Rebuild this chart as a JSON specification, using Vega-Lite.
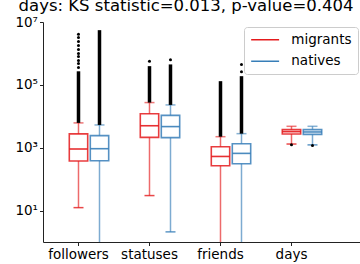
{
  "$schema": "https://vega.github.io/schema/vega-lite/v6.json",
  "width": 317,
  "height": 220,
  "autosize": {"type": "none"},
  "padding": {"left": 43, "top": 22, "right": 0, "bottom": 22},
  "background": "white",
  "config": {
    "font": "DejaVu Sans",
    "view": {"stroke": null},
    "axis": {"grid": false, "domainColor": "#222222", "tickColor": "#222222", "labelColor": "black", "labelFontSize": 13.5, "tickSize": 3.5, "labelPadding": 2, "title": null}
  },
  "title": {"text": "days: KS statistic=0.013, p-value=0.404", "fontSize": 16.5, "fontWeight": "normal", "color": "black", "anchor": "middle", "frame": "group", "baseline": "alphabetic", "offset": 3, "dx": -15.5, "dy": 15},
  "datasets": {
    "boxes": [
      {"metric": "followers", "group": "migrants", "lo": 12.4, "q1": 377, "median": 910, "q3": 2750, "hi": 6160, "fmax": 270000},
      {"metric": "followers", "group": "natives", "lo": 0.5, "q1": 385, "median": 930, "q3": 2420, "hi": 5300, "fmax": 5500000},
      {"metric": "statuses", "group": "migrants", "lo": 30, "q1": 2130, "median": 5000, "q3": 12000, "hi": 27300, "fmax": 394000},
      {"metric": "statuses", "group": "natives", "lo": 2.1, "q1": 2090, "median": 4700, "q3": 10700, "hi": 23000, "fmax": 447000},
      {"metric": "friends", "group": "migrants", "lo": 0.5, "q1": 267, "median": 527, "q3": 1070, "hi": 2240, "fmax": 131000},
      {"metric": "friends", "group": "natives", "lo": 0.5, "q1": 310, "median": 660, "q3": 1340, "hi": 2800, "fmax": 189000},
      {"metric": "days", "group": "migrants", "lo": 1310, "q1": 2740, "median": 3240, "q3": 3760, "hi": 4800, "fmax": 4800},
      {"metric": "days", "group": "natives", "lo": 1230, "q1": 2650, "median": 3170, "q3": 3760, "hi": 4800, "fmax": 4800}
    ],
    "outliers": [
      {"metric": "followers", "group": "migrants", "value": 4050000},
      {"metric": "followers", "group": "migrants", "value": 3240000},
      {"metric": "followers", "group": "migrants", "value": 2400000},
      {"metric": "followers", "group": "migrants", "value": 1800000},
      {"metric": "followers", "group": "migrants", "value": 1340000},
      {"metric": "followers", "group": "migrants", "value": 1000000},
      {"metric": "followers", "group": "migrants", "value": 800000},
      {"metric": "followers", "group": "migrants", "value": 600000},
      {"metric": "followers", "group": "migrants", "value": 480000},
      {"metric": "followers", "group": "migrants", "value": 357000},
      {"metric": "statuses", "group": "migrants", "value": 569000},
      {"metric": "statuses", "group": "natives", "value": 630000},
      {"metric": "friends", "group": "natives", "value": 262000},
      {"metric": "friends", "group": "natives", "value": 447000},
      {"metric": "days", "group": "migrants", "value": 1250},
      {"metric": "days", "group": "natives", "value": 1180}
    ]
  },
  "layer": [
    {
      "mark": {"type": "rule", "color": "#222222", "strokeWidth": 1},
      "encoding": {"y": {"datum": 10000000, "type": "quantitative", "scale": {"type": "log", "domain": [1, 10000000], "nice": false}}}
    },
    {
      "data": {"name": "boxes"},
      "layer": [
        {
          "mark": {"type": "rule", "strokeWidth": 1.5, "opacity": 0.65, "clip": true},
          "encoding": {"y": {"field": "lo"}, "y2": {"field": "q1"}}
        },
        {
          "mark": {"type": "rule", "strokeWidth": 1.5, "opacity": 0.65, "clip": true},
          "encoding": {"y": {"field": "q3"}, "y2": {"field": "hi"}}
        },
        {
          "mark": {"type": "tick", "orient": "horizontal", "size": 10, "thickness": 1.5, "opacity": 0.8, "clip": true},
          "encoding": {"y": {"field": "lo"}}
        },
        {
          "mark": {"type": "tick", "orient": "horizontal", "size": 10, "thickness": 1.5, "opacity": 0.6, "clip": true},
          "encoding": {"y": {"field": "hi"}}
        },
        {
          "mark": {"type": "rule", "strokeWidth": 3.5, "color": "black", "clip": true},
          "encoding": {"y": {"field": "hi"}, "y2": {"field": "fmax"}, "color": {"value": "black"}}
        },
        {
          "mark": {"type": "bar", "filled": false, "strokeWidth": 1.6, "strokeOpacity": 0.85, "clip": true},
          "encoding": {"y": {"field": "q1"}, "y2": {"field": "q3"}}
        },
        {
          "mark": {"type": "tick", "orient": "horizontal", "size": 18.4, "thickness": 1.6, "opacity": 0.9, "clip": true},
          "encoding": {"y": {"field": "median"}}
        }
      ],
      "encoding": {
        "x": {"field": "metric", "type": "nominal", "scale": {"type": "band", "domain": ["followers", "statuses", "friends", "days"], "paddingInner": 0, "paddingOuter": 0.2324, "align": 0}, "axis": {"labelAngle": 0}},
        "xOffset": {"field": "group", "type": "nominal", "scale": {"type": "band", "domain": ["migrants", "natives"], "paddingInner": 0.124, "paddingOuter": 0.7526, "align": 0.832}},
        "y": {"type": "quantitative", "scale": {"type": "log", "domain": [1, 10000000], "nice": false}, "axis": {"values": [10, 1000, 100000, 10000000], "labelExpr": "datum.value == 10 ? '10¹' : datum.value == 1000 ? '10³' : datum.value == 100000 ? '10⁵' : '10⁷'"}},
        "color": {"field": "group", "type": "nominal", "scale": {"domain": ["migrants", "natives"], "range": ["#e41a1c", "#377eb8"]}, "legend": {"orient": "none", "legendX": 201, "legendY": 5, "title": null, "symbolType": "M-1,0L4,0", "symbolSize": 125, "symbolStrokeWidth": 1.5, "symbolOpacity": 1, "labelFontSize": 13.5, "labelColor": "black", "labelOffset": 27.8, "padding": 6, "rowPadding": 6.5, "strokeColor": "#cccccc", "fillColor": "white", "cornerRadius": 3}}
      }
    },
    {
      "data": {"name": "outliers"},
      "mark": {"type": "circle", "color": "black", "size": 9, "opacity": 1, "clip": true},
      "encoding": {
        "x": {"field": "metric", "type": "nominal", "scale": {"type": "band", "domain": ["followers", "statuses", "friends", "days"], "paddingInner": 0, "paddingOuter": 0.2324, "align": 0}},
        "xOffset": {"field": "group", "type": "nominal", "scale": {"type": "band", "domain": ["migrants", "natives"], "paddingInner": 0.124, "paddingOuter": 0.7526, "align": 0.832}},
        "y": {"field": "value", "type": "quantitative", "scale": {"type": "log", "domain": [1, 10000000], "nice": false}}
      }
    }
  ]
}
